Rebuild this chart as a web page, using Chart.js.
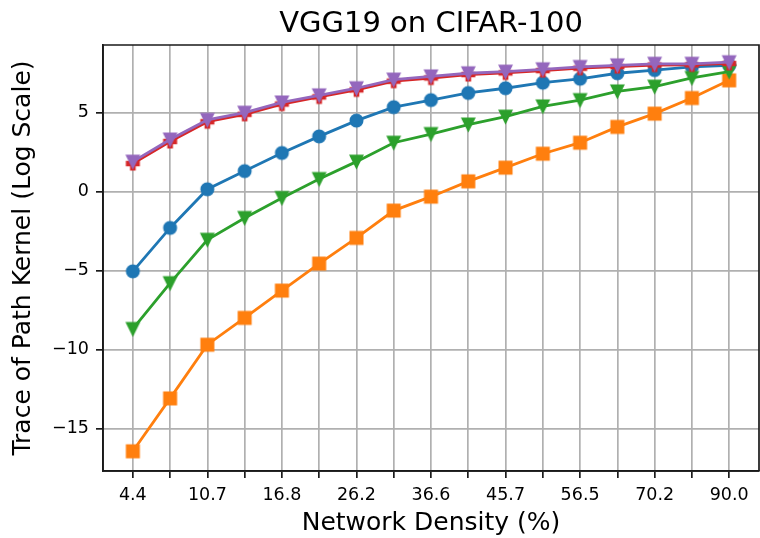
<!DOCTYPE html>
<html>
<head>
<meta charset="utf-8">
<script src="https://cdn.jsdelivr.net/npm/chart.js@4/dist/chart.umd.min.js"></script>
<style>
  html, body { margin: 0; padding: 0; background: #fff; }
  #wrap { width: 760px; height: 538px; }
</style>
</head>
<body>
<div id="wrap"><canvas id="c" width="760" height="538"></canvas></div>
<script>
// ---- data ----
const titleText = 'VGG19 on CIFAR-100';
const densities = ['4.4','6.9','10.7','13.4','16.8','21.0','26.2','31.5','36.6','41.0','45.7','51.2','56.5','63.0','70.2','80.0','90.0'];
const yTickValues = [-15, -10, -5, 0, 5];
const seriesBlue   = [-5.05, -2.3, 0.15, 1.3, 2.45, 3.5, 4.5, 5.35, 5.8, 6.25, 6.55, 6.9, 7.15, 7.5, 7.7, 7.9, 8.0];
const seriesOrange = [-16.45, -13.1, -9.7, -8.0, -6.27, -4.56, -2.93, -1.2, -0.32, 0.65, 1.52, 2.4, 3.1, 4.1, 4.94, 5.93, 7.05];
const seriesGreen  = [-8.7, -5.8, -3.05, -1.67, -0.4, 0.8, 1.9, 3.1, 3.65, 4.25, 4.75, 5.4, 5.8, 6.35, 6.65, 7.2, 7.6];
const seriesRed    = [1.78, 3.18, 4.43, 4.9, 5.55, 6.0, 6.45, 7.0, 7.2, 7.42, 7.52, 7.67, 7.82, 7.92, 8.02, 8.03, 8.12];
const seriesPurple = [1.9, 3.3, 4.55, 5.0, 5.65, 6.1, 6.55, 7.1, 7.3, 7.5, 7.6, 7.75, 7.9, 8.0, 8.1, 8.1, 8.2];

const FONT = "'DejaVu Sans', sans-serif";

function marker(color, shape, size) {
  const pad = 2;
  const s = Math.round(size + pad * 2);
  const c = document.createElement('canvas');
  c.width = s; c.height = s;
  const g = c.getContext('2d');
  const m = s / 2, h = size / 2;
  g.fillStyle = color; g.strokeStyle = color; g.lineWidth = 1.5; g.lineJoin = 'miter';
  g.beginPath();
  if (shape === 'tridown') {
    g.moveTo(m - h, m - h); g.lineTo(m + h, m - h); g.lineTo(m, m + h); g.closePath();
  } else if (shape === 'plus') {
    const t = size / 6;
    g.moveTo(m - t, m - h); g.lineTo(m + t, m - h); g.lineTo(m + t, m - t);
    g.lineTo(m + h, m - t); g.lineTo(m + h, m + t); g.lineTo(m + t, m + t);
    g.lineTo(m + t, m + h); g.lineTo(m - t, m + h); g.lineTo(m - t, m + t);
    g.lineTo(m - h, m + t); g.lineTo(m - h, m - t); g.lineTo(m - t, m - t); g.closePath();
  } else if (shape === 'square') {
    g.rect(m - h, m - h, size, size);
  } else {
    g.arc(m, m, h, 0, Math.PI * 2);
  }
  g.fill(); g.stroke();
  return c;
}

function toXY(arr) { return arr.map((v, i) => ({ x: i, y: v })); }

function ds(arr, color, shape, order) {
  return {
    data: toXY(arr),
    borderColor: color,
    backgroundColor: color,
    borderWidth: 2.8,
    pointStyle: marker(color, shape, 12.5),
    pointRadius: 7,
    pointHoverRadius: 7,
    tension: 0,
    order: order,
    clip: false
  };
}

const frameAndTitle = {
  id: 'frameAndTitle',
  afterDatasetsDraw(chart) {
    const { ctx, chartArea: a } = chart;
    ctx.save();
    ctx.strokeStyle = '#1a1a1a';
    ctx.lineWidth = 1.7;
    ctx.beginPath();
    ctx.moveTo(a.left, a.top); ctx.lineTo(a.right, a.top); ctx.lineTo(a.right, a.bottom);
    ctx.moveTo(a.left, a.top); ctx.lineTo(a.left, a.bottom); ctx.lineTo(a.right, a.bottom);
    ctx.stroke();
    ctx.fillStyle = '#000';
    ctx.font = '29px ' + FONT;
    ctx.textAlign = 'center';
    ctx.textBaseline = 'middle';
    ctx.fillText(titleText, (a.left + a.right) / 2, 24);
    ctx.restore();
  }
};

new Chart(document.getElementById('c'), {
  type: 'line',
  data: {
    datasets: [
      ds(seriesBlue,   '#1f77b4', 'circle',  4),
      ds(seriesOrange, '#ff7f0e', 'square',  3),
      ds(seriesGreen,  '#2ca02c', 'tridown', 2),
      ds(seriesRed,    '#d62728', 'plus',    1),
      ds(seriesPurple, '#9467bd', 'tridown', 0)
    ]
  },
  options: {
    responsive: false,
    animation: false,
    events: [],
    layout: { autoPadding: false, padding: { left: 0, right: 1, top: 45, bottom: 0 } },
    plugins: {
      legend: { display: false },
      tooltip: { enabled: false },
      title: { display: false }
    },
    scales: {
      x: {
        type: 'linear',
        min: -0.8, max: 16.8,
        afterBuildTicks(s) { s.ticks = densities.map((_, i) => ({ value: i })); },
        afterFit(s) { s.height = 67; s.paddingLeft = 0; s.paddingRight = 0; },
        ticks: {
          autoSkip: false, maxRotation: 0,
          color: '#000',
          font: { family: FONT, size: 17.5 },
          padding: 7,
          callback(v) { return (v % 2 === 0) ? densities[v] : ''; }
        },
        grid: { color: '#b0b0b0', lineWidth: 1.7, tickLength: 7, tickColor: '#1a1a1a', tickWidth: 1.7 },
        border: { display: true, color: '#1a1a1a', width: 1.7 },
        title: {
          display: true, text: 'Network Density (%)', color: '#000',
          font: { family: FONT, size: 25, lineHeight: 1 },
          padding: { top: 0, bottom: 2.5 }
        }
      },
      y: {
        type: 'linear',
        min: -17.7, max: 9.29,
        afterBuildTicks(s) { s.ticks = yTickValues.map(v => ({ value: v })); },
        afterFit(s) { s.width = 103; s.paddingTop = 0; s.paddingBottom = 0; },
        ticks: {
          color: '#000',
          font: { family: FONT, size: 17.5 },
          padding: 7,
          callback(v) { return String(v).replace('-', '\u2212'); }
        },
        grid: { color: '#b0b0b0', lineWidth: 1.7, tickLength: 7, tickColor: '#1a1a1a', tickWidth: 1.7 },
        border: { display: true, color: '#1a1a1a', width: 1.7 },
        title: {
          display: true, text: 'Trace of Path Kernel (Log Scale)', color: '#000',
          font: { family: FONT, size: 25, lineHeight: 1 },
          padding: { top: 10.5, bottom: 0 }
        }
      }
    }
  },
  plugins: [frameAndTitle]
});
</script>
</body>
</html>
